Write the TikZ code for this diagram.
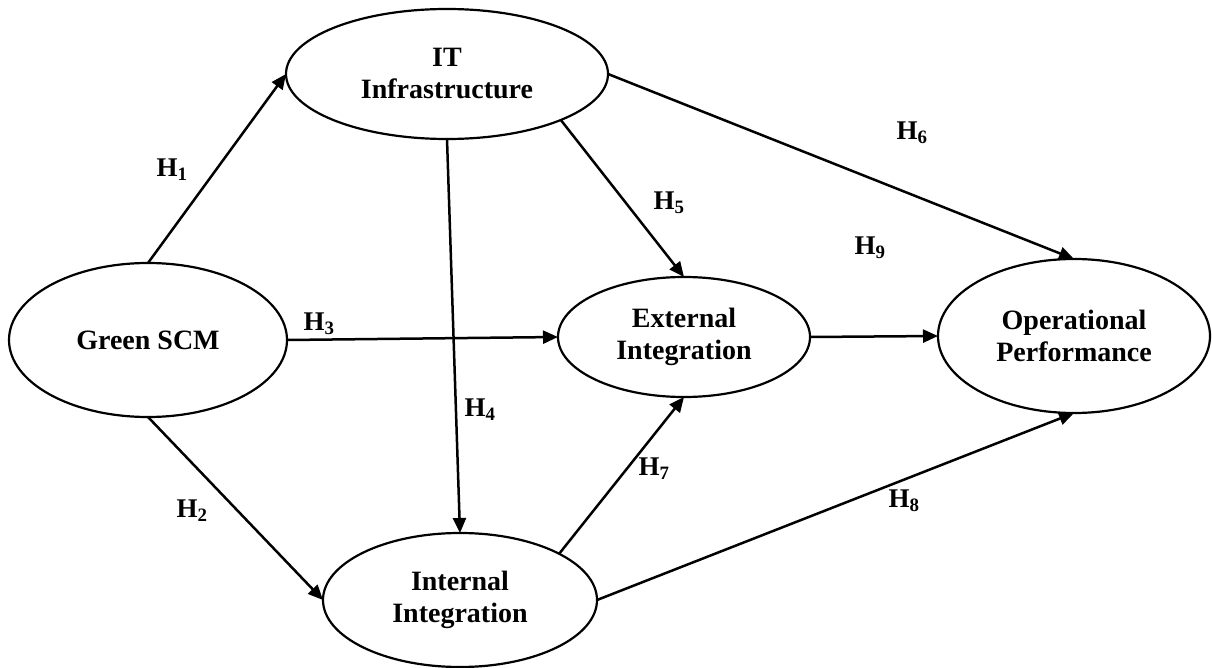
\documentclass[tikz,border=0pt]{standalone}
\usepackage{fontspec}
\setmainfont{Liberation Serif}
\usetikzlibrary{shapes.geometric,arrows.meta}
\begin{document}
\begin{tikzpicture}[x=1pt,y=-1pt,
  construct/.style={ellipse, draw, line width=2.2pt, inner sep=0pt, outer sep=0pt, align=center,
    font=\fontsize{28}{32}\selectfont\bfseries},
  hyparrow/.style={line width=2.5pt, -{Triangle[length=15pt,width=13pt]}},
  hlabel/.style={font=\fontsize{27}{30}\selectfont\bfseries, inner sep=0pt}]
\useasboundingbox (0,0) rectangle (1212,668);

\node[construct, minimum width=322pt, minimum height=130pt] (it) at (447,74) {IT\\Infrastructure};
\node[construct, minimum width=278pt, minimum height=154pt] (gscm) at (148,340) {Green SCM};
\node[construct, minimum width=252pt, minimum height=120pt] (ext) at (684,337) {External\\Integration};
\node[construct, minimum width=272pt, minimum height=154pt] (op) at (1074,336) {Operational\\Performance};
\node[construct, minimum width=274pt, minimum height=134pt] (intg) at (460,600) {Internal\\Integration};

\draw[hyparrow] (gscm.north) -- (it.west);
\draw[hyparrow] (gscm.south) -- (intg.west);
\draw[hyparrow] (gscm.east) -- (ext.west);
\draw[hyparrow] (it.south) -- (intg.north);
\draw[hyparrow] (it.-22) -- (ext.north);
\draw[hyparrow] (it.east) -- (op.north);
\draw[hyparrow] (intg.25) -- (ext.south);
\draw[hyparrow] (intg.east) -- (op.south);
\draw[hyparrow] (ext.east) -- (op.west);

\node[hlabel] (h1) at (172,170) {H\textsubscript{1}};
\node[hlabel] (h2) at (192,511) {H\textsubscript{2}};
\node[hlabel] (h3) at (319,324) {H\textsubscript{3}};
\node[hlabel] (h4) at (480,410) {H\textsubscript{4}};
\node[hlabel] (h5) at (669,203) {H\textsubscript{5}};
\node[hlabel] (h6) at (912,133) {H\textsubscript{6}};
\node[hlabel] (h7) at (654,469) {H\textsubscript{7}};
\node[hlabel] (h8) at (904,501) {H\textsubscript{8}};
\node[hlabel] (h9) at (870,248) {H\textsubscript{9}};
\end{tikzpicture}
\end{document}
